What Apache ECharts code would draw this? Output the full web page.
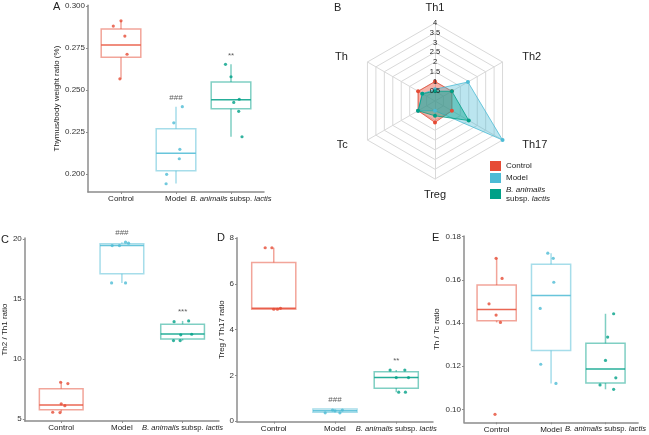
<!DOCTYPE html>
<html>
<head>
<meta charset="utf-8">
<script src="https://cdn.jsdelivr.net/npm/echarts@6/dist/echarts.min.js"></script>
<style>
html,body{margin:0;padding:0;background:#fff;}
#main{width:649px;height:435px;}
</style>
</head>
<body>
<div id="main"></div>
<script>
// ---------------- DATA ----------------
const groups = ['Control', 'Model', 'B. animalis subsp. lactis'];

// Panel A: thymus/body weight ratio (%) box stats [low, q1, median, q3, high]
const thymusBox = [
  [0.2567, 0.2695, 0.2768, 0.2863, 0.2912],
  [0.1944, 0.2020, 0.2123, 0.2270, 0.2401],
  [0.2222, 0.2389, 0.2442, 0.2548, 0.2653]
];
const thymusPts = [
  [0.2881, 0.2912, 0.2821, 0.2713, 0.2567],
  [0.2401, 0.2305, 0.2147, 0.2091, 0.1998, 0.1942],
  [0.2653, 0.2579, 0.2426, 0.2445, 0.2373, 0.2222]
];
const thymusJitter = [
  [-0.14, 0.0, 0.07, 0.11, -0.02],
  [0.115, -0.04, 0.07, 0.06, -0.17, -0.18],
  [-0.10, 0.0, 0.05, 0.15, 0.14, 0.20]
];
const thymusSig = ['', '###', '**'];
const thymusTicks = [0.200, 0.225, 0.250, 0.275, 0.300];

// Panel C: Th2 / Th1 ratio
const th2th1Box = [
  [5.55, 5.78, 6.19, 7.53, 8.08],
  [16.36, 17.13, 19.47, 19.63, 19.75],
  [11.55, 11.69, 12.11, 12.92, 13.19]
];
const th2th1Pts = [
  [5.58, 5.55, 8.08, 7.97, 6.28, 6.13],
  [16.36, 16.36, 19.47, 19.47, 19.75, 19.67],
  [13.13, 13.19, 12.03, 12.08, 11.55, 11.55]
];
const th2th1Jitter = [
  [-0.14, -0.02, -0.01, 0.11, 0.0, 0.06],
  [-0.17, 0.06, -0.16, -0.04, 0.06, 0.11],
  [-0.14, 0.10, -0.03, 0.15, -0.15, -0.04]
];
const th2th1Sig = ['', '###', '***'];
const th2th1Ticks = [5, 10, 15, 20];

// Panel D: Treg / Th17 ratio
const tregBox = [
  [4.89, 4.89, 4.93, 6.93, 7.58],
  [0.36, 0.38, 0.45, 0.525, 0.525],
  [1.26, 1.43, 1.90, 2.16, 2.23]
];
const tregPts = [
  [7.58, 7.58, 4.89, 4.89, 4.93],
  [0.36, 0.48, 0.36, 0.48, 0.45],
  [2.23, 2.23, 1.90, 1.90, 1.26, 1.26]
];
const tregJitter = [
  [-0.14, -0.03, 0.0, 0.06, 0.11],
  [-0.16, -0.04, 0.08, 0.12, 0.0],
  [-0.10, 0.14, 0.0, 0.20, 0.04, 0.15]
];
const tregSig = ['', '###', '**'];
const tregTicks = [0, 2, 4, 6, 8];

// Panel E: Th / Tc ratio
const thtcBox = [
  [0.1403, 0.1411, 0.1463, 0.1576, 0.1700],
  [0.1120, 0.1273, 0.1528, 0.1672, 0.1724],
  [0.1093, 0.1122, 0.1187, 0.1306, 0.1443]
];
const thtcPts = [
  [0.1700, 0.1607, 0.1489, 0.1437, 0.1403, 0.0977],
  [0.1724, 0.1700, 0.1589, 0.1468, 0.1209, 0.1120],
  [0.1443, 0.1335, 0.1227, 0.1146, 0.1113, 0.1093]
];
const thtcJitter = [
  [-0.01, 0.10, -0.14, -0.01, 0.07, -0.03],
  [-0.06, 0.04, 0.05, -0.20, -0.19, 0.09],
  [0.15, 0.04, 0.0, 0.19, -0.10, 0.15]
];
const thtcSig = ['', '', ''];
const thtcTicks = [0.10, 0.12, 0.14, 0.16, 0.18];

// Panel B: radar (counter-clockwise from top)
const radarAxes = ['Th1', 'Th', 'Tc', 'Treg', 'Th17', 'Th2'];
const radarControl = [1.0, 1.0, 1.0, 1.1, 1.0, 1.0];
const radarModel   = [0.6, 0.75, 1.0, 0.5, 4.0, 1.95];
const radarBal     = [0.5, 0.75, 1.0, 0.76, 2.0, 1.0];
const radarTicks = [0.5, 1, 1.5, 2, 2.5, 3, 3.5, 4];

// ---------------- STYLE ----------------
const colors = ['#E64B35', '#4DBBD5', '#00A087'];
const FONT = 'Liberation Sans';
const axisGray = '#8c8c8c';

const chart = echarts.init(document.getElementById('main'), null, {renderer: 'canvas'});

const grids = [
  {left: 88, top: 5.2, width: 176, height: 186.8},
  {left: 21.5, top: 238, width: 197.5, height: 183},
  {left: 237, top: 237.7, width: 196, height: 184},
  {left: 464, top: 236.1, width: 183, height: 186.2}
];
const yRanges = [[0.1893, 0.3005], [4.85, 20.1], [-0.03, 8.02], [0.094, 0.1803]];
const yTicks = [thymusTicks, th2th1Ticks, tregTicks, thtcTicks];
const yFmt = [v => v.toFixed(3), v => String(v), v => String(v), v => v.toFixed(2)];
const yNames = ['Thymus/body weight ratio (%)', 'Th2 / Th1 ratio', 'Treg / Th17 ratio', 'Th / Tc ratio'];
const yNameGaps = [24, 12, 11.5, 23];
const boxes = [thymusBox, th2th1Box, tregBox, thtcBox];
const pts = [thymusPts, th2th1Pts, tregPts, thtcPts];
const jit = [thymusJitter, th2th1Jitter, tregJitter, thtcJitter];
const sigs = [thymusSig, th2th1Sig, tregSig, thtcSig];

const xAxes = grids.map((g, i) => ({
  type: 'value', gridIndex: i, min: 0.4, max: 3.6,
  splitLine: {show: false},
  axisLine: {show: true, onZero: false, lineStyle: {color: axisGray, width: 1.5}},
  axisTick: {show: true, customValues: [1, 2, 3], length: 2, lineStyle: {color: axisGray}},
  axisLabel: {
    customValues: [1, 2, 3], margin: 3, fontSize: 8, color: '#222', fontFamily: FONT,
    formatter: v => {
      const idx = Math.round(v) - 1;
      if (idx === 2) return '{i|B. animalis}{n| subsp. }{i|lactis}';
      return groups[idx] || '';
    },
    rich: {
      i: {fontStyle: 'italic', fontSize: 7.6, color: '#222', fontFamily: FONT},
      n: {fontSize: 7.6, color: '#222', fontFamily: FONT}
    }
  }
}));
const yAxes = grids.map((g, i) => ({
  type: 'value', gridIndex: i, min: yRanges[i][0], max: yRanges[i][1],
  splitLine: {show: false},
  axisLine: {show: true, onZero: false, lineStyle: {color: axisGray, width: 1.5}},
  axisTick: {show: true, customValues: yTicks[i], length: 2, lineStyle: {color: axisGray}},
  axisLabel: {customValues: yTicks[i], formatter: yFmt[i], margin: 3, fontSize: 8, color: '#333', fontFamily: FONT},
  name: yNames[i], nameLocation: 'middle', nameGap: yNameGaps[i], nameRotate: 90,
  nameTextStyle: {fontSize: 8, color: '#222', fontFamily: FONT}
}));

function boxRender(params, api) {
  const x = api.value(0);
  const c = colors[params.dataIndex];
  const half = api.size([0.72, 0])[0] / 2;
  const pLow = api.coord([x, api.value(1)]);
  const pQ1 = api.coord([x, api.value(2)]);
  const pMed = api.coord([x, api.value(3)]);
  const pQ3 = api.coord([x, api.value(4)]);
  const pHigh = api.coord([x, api.value(5)]);
  const light = {stroke: c, lineWidth: 1.5, opacity: 0.5, fill: null};
  return {
    type: 'group',
    children: [
      {type: 'line', shape: {x1: pLow[0], y1: pLow[1], x2: pQ1[0], y2: pQ1[1]}, style: light},
      {type: 'line', shape: {x1: pQ3[0], y1: pQ3[1], x2: pHigh[0], y2: pHigh[1]}, style: light},
      {type: 'rect', shape: {x: pQ3[0] - half, y: pQ3[1], width: half * 2, height: pQ1[1] - pQ3[1]},
        style: {stroke: c, lineWidth: 1.5, opacity: 0.5, fill: 'rgba(255,255,255,0)'}},
      {type: 'line', shape: {x1: pMed[0] - half, y1: pMed[1], x2: pMed[0] + half, y2: pMed[1]},
        style: {stroke: c, lineWidth: 1.5, opacity: 0.85}}
    ]
  };
}

const series = [];
grids.forEach((g, i) => {
  series.push({
    type: 'custom', name: 'box' + i, xAxisIndex: i, yAxisIndex: i,
    renderItem: boxRender, encode: {x: 0, y: [1, 2, 3, 4, 5]},
    data: boxes[i].map((b, k) => [k + 1].concat(b)), silent: true, z: 2
  });
  for (let k = 0; k < 3; k++) {
    series.push({
      type: 'scatter', name: 'pts' + i + '_' + k, xAxisIndex: i, yAxisIndex: i,
      symbol: 'circle', symbolSize: 3.2, itemStyle: {color: colors[k]}, z: 3,
      data: pts[i][k].map((v, j) => [k + 1 + jit[i][k][j], v])
    });
  }
  series.push({
    type: 'scatter', name: 'sig' + i, xAxisIndex: i, yAxisIndex: i, symbolSize: 0, z: 4,
    data: sigs[i].map((s, k) => ({value: [k + 1, Math.max.apply(null, pts[i][k].concat(boxes[i][k]))], sig: s})),
    label: {show: true, position: 'top', distance: 5, fontSize: 8, color: '#333', fontFamily: FONT,
      formatter: p => p.data.sig}
  });
});

series.push({
  type: 'radar', radarIndex: 0, symbol: 'circle', symbolSize: 4, z: 3,
  data: [
    {name: 'Control', value: radarControl, itemStyle: {color: colors[0]},
      lineStyle: {color: colors[0], width: 1, opacity: 0.8}, areaStyle: {color: colors[0], opacity: 0.42}},
    {name: 'Model', value: radarModel, itemStyle: {color: colors[1]},
      lineStyle: {color: colors[1], width: 1, opacity: 0.8}, areaStyle: {color: colors[1], opacity: 0.38}},
    {name: 'B. animalis subsp. lactis', value: radarBal, itemStyle: {color: colors[2]},
      lineStyle: {color: colors[2], width: 1, opacity: 0.8}, areaStyle: {color: colors[2], opacity: 0.42}}
  ]
});

const option = {
  backgroundColor: '#fff',
  animation: false,
  textStyle: {fontFamily: FONT},
  grid: grids,
  xAxis: xAxes,
  yAxis: yAxes,
  radar: {
    center: [435, 101], radius: 78, startAngle: 90, shape: 'polygon', splitNumber: 8,
    indicator: radarAxes.map(n => ({name: n, min: 0, max: 4})),
    nameGap: 10,
    axisName: {
      color: '#222', fontSize: 11, fontFamily: FONT,
      formatter: n => (n === 'Th1' || n === 'Treg') ? '{v|' + n + '}' : '{h|' + n + '}',
      rich: {
        v: {fontSize: 11, color: '#222', fontFamily: FONT},
        h: {fontSize: 11, color: '#222', fontFamily: FONT, padding: [0, 11, 0, 11]}
      }
    },
    splitLine: {lineStyle: {color: '#d9d9d9', width: 1}},
    splitArea: {show: false},
    axisLine: {lineStyle: {color: '#d9d9d9', width: 1}},
    axisLabel: {show: false}
  },
  polar: {center: [435, 101], radius: 78},
  angleAxis: {startAngle: 90, show: false, min: 0, max: 360},
  radiusAxis: {
    min: 0, max: 4, z: 10,
    axisLine: {show: false}, axisTick: {show: false}, splitLine: {show: false},
    axisLabel: {customValues: radarTicks, margin: 0, align: 'center', verticalAlign: 'middle',
      fontSize: 7.5, color: '#222', fontFamily: FONT, formatter: v => String(v)}
  },
  legend: {
    orient: 'vertical', left: 490, top: 161, padding: 0, itemWidth: 11, itemHeight: 10, itemGap: 2,
    icon: 'rect', selectedMode: false,
    data: ['Control', 'Model', 'B. animalis subsp. lactis'],
    formatter: n => n === 'B. animalis subsp. lactis' ? '{i|B. animalis}\nsubsp. {i|lactis}' : n,
    textStyle: {fontSize: 8, color: '#222', fontFamily: FONT, lineHeight: 9,
      rich: {i: {fontStyle: 'italic', fontSize: 8, color: '#222', fontFamily: FONT, lineHeight: 9}}},
    itemStyle: {opacity: 1}
  },
  graphic: [
    {type: 'text', left: 53, top: 1, style: {text: 'A', fontSize: 11, fill: '#222', fontFamily: FONT}},
    {type: 'text', left: 334, top: 2, style: {text: 'B', fontSize: 11, fill: '#222', fontFamily: FONT}},
    {type: 'text', left: 1, top: 234, style: {text: 'C', fontSize: 11, fill: '#222', fontFamily: FONT}},
    {type: 'text', left: 217, top: 232, style: {text: 'D', fontSize: 11, fill: '#222', fontFamily: FONT}},
    {type: 'text', left: 432, top: 232, style: {text: 'E', fontSize: 11, fill: '#222', fontFamily: FONT}}
  ],
  series: series
};
chart.setOption(option);
</script>
</body>
</html>
